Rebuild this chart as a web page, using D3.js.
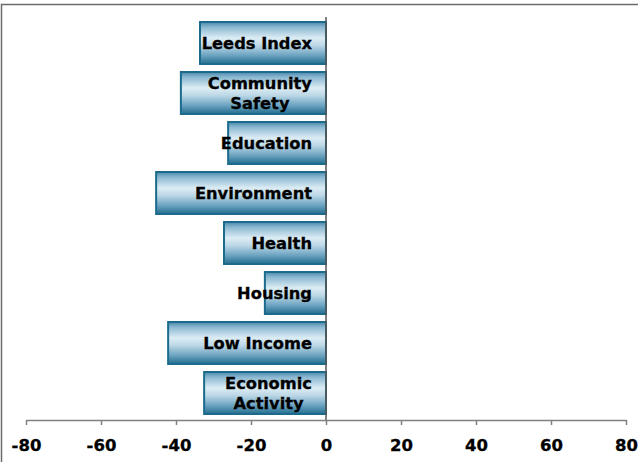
<!DOCTYPE html>
<html>
<head>
<meta charset="utf-8">
<script src="https://cdn.jsdelivr.net/npm/d3@7"></script>
<style>
  html, body { margin: 0; padding: 0; background: #fff; }
  svg { display: block; }
</style>
</head>
<body>
<svg id="chart" width="638" height="462"></svg>
<script>
const categories = ["Leeds Index", "Community\nSafety", "Education", "Environment", "Health", "Housing", "Low Income", "Economic\nActivity"];
const values = [-33.6, -38.7, -26.1, -45.3, -27.2, -16.3, -42.1, -32.5];
const xTicks = [-80, -60, -40, -20, 0, 20, 40, 60, 80];

const svg = d3.select("#chart");
const W = 638, H = 462;
const fontFam = "'DejaVu Sans', Verdana, sans-serif";

// outer border
svg.append("path")
  .attr("d", `M1.5,${H} L1.5,4.5 L${W},4.5`)
  .attr("fill", "none").attr("stroke", "#6b6b6b").attr("stroke-width", 1.5);

const x = d3.scaleLinear().domain([-80, 80]).range([26, 626]);
const y = d3.scaleBand().domain(d3.range(categories.length)).range([18, 418]).paddingInner(0.16).paddingOuter(0.08);

const defs = svg.append("defs");
const grad = defs.append("linearGradient").attr("id", "barGrad").attr("x1", 0).attr("y1", 0).attr("x2", 0).attr("y2", 1);
[[0, "#4a88ab"], [0.12, "#8ab7d0"], [0.38, "#dcecf4"], [0.55, "#bed9e7"], [0.8, "#6aa2c0"], [1, "#246d8d"]]
  .forEach(([o, c]) => grad.append("stop").attr("offset", o).attr("stop-color", c));

// bars
svg.append("g").selectAll("rect").data(values).join("rect")
  .attr("x", d => x(Math.min(0, d)))
  .attr("y", (d, i) => y(i))
  .attr("width", d => Math.abs(x(d) - x(0)))
  .attr("height", y.bandwidth())
  .attr("fill", "url(#barGrad)")
  .attr("stroke", "#1d6b8c").attr("stroke-width", 2);

// zero line
svg.append("line")
  .attr("x1", x(0)).attr("x2", x(0)).attr("y1", 17).attr("y2", 420)
  .attr("stroke", "#555").attr("stroke-width", 1.5);

// x axis
const axis = svg.append("g").attr("transform", "translate(0,420)")
  .call(d3.axisBottom(x).tickValues(xTicks).tickFormat(d => String(d)).tickSize(5).tickPadding(14).tickSizeOuter(0));
axis.select(".domain").attr("stroke", "#808080").attr("stroke-width", 1.5);
axis.selectAll(".tick line").attr("stroke", "#808080").attr("stroke-width", 1.5);
axis.selectAll(".tick text")
  .attr("font-family", fontFam).attr("font-weight", "bold").attr("font-size", 16.5).attr("fill", "#000")
  .attr("stroke", "#000").attr("stroke-width", 0.3);

// category labels
const labelRight = 312;
const lineH = 20;
categories.forEach((c, i) => {
  const lines = c.split("\n");
  const cy = y(i) + y.bandwidth() / 2;
  const t = svg.append("text")
    .attr("font-family", fontFam).attr("font-weight", "bold").attr("font-size", 16.3)
    .attr("fill", "#000").attr("stroke", "#000").attr("stroke-width", 0.3)
    .attr("text-anchor", "middle");
  const tsp = lines.map((ln, k) => t.append("tspan")
    .attr("y", cy + (k - (lines.length - 1) / 2) * lineH)
    .attr("dy", "0.36em")
    .text(ln));
  const maxW = d3.max(tsp, s => s.node().getComputedTextLength());
  tsp.forEach(s => s.attr("x", labelRight - maxW / 2));
});
</script>
</body>
</html>
